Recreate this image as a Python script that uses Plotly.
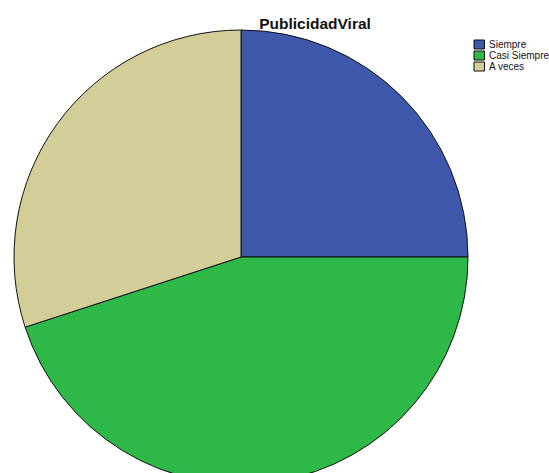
import plotly.graph_objects as go

# PublicidadViral: share of responses per category
categories = ["Siempre", "Casi Siempre", "A veces"]
values = [25, 45, 30]
colors = ["#3E58AC", "#2EB848", "#D3CE97"]
title_text = "PublicidadViral"

W, H = 549, 500          # page is a little taller than the window so the pie runs off the bottom
cx, cy, r = 241, 257, 227  # pie centre (px from top-left) and radius


def px_x(x):
    return x / W


def px_y(y):
    return 1 - y / H


fig = go.Figure(
    go.Pie(
        labels=categories,
        values=values,
        marker=dict(colors=colors, line=dict(color="#111111", width=1)),
        sort=False,
        direction="clockwise",
        rotation=0,
        textinfo="none",
        hoverinfo="label+percent",
        showlegend=False,
        domain=dict(x=[px_x(cx - r), px_x(cx + r)],
                    y=[px_y(cy + r), px_y(cy - r)]),
    )
)

# compact legend: swatch + label per category
shapes, annotations = [], []
row0, row_step = 44.5, 11.0
for i, (lab, col) in enumerate(zip(categories, colors)):
    yc = row0 + i * row_step
    shapes.append(dict(
        type="rect", xref="paper", yref="paper",
        x0=px_x(474), x1=px_x(484.5), y0=px_y(yc + 4.5), y1=px_y(yc - 4.5),
        fillcolor=col, line=dict(color="#111111", width=1),
    ))
    annotations.append(dict(
        text=lab, xref="paper", yref="paper",
        x=px_x(487), y=px_y(yc), xanchor="left", yanchor="middle",
        showarrow=False,
        font=dict(family="Liberation Sans, Arial, sans-serif", size=10, color="#111111"),
    ))

fig.update_layout(
    width=W, height=H,
    margin=dict(l=0, r=0, t=0, b=0),
    paper_bgcolor="white",
    plot_bgcolor="white",
    title=dict(
        text="<b>" + title_text + "</b>",
        x=px_x(315), xanchor="center",
        y=px_y(24), yanchor="middle",
        font=dict(family="Liberation Sans, Arial, sans-serif", size=15.5, color="#111111"),
    ),
    shapes=shapes,
    annotations=annotations,
)

fig.write_html(
    "out.html",
    post_script="document.documentElement.style.overflow='hidden';document.body.style.overflow='hidden';document.body.style.margin='0';",
)
